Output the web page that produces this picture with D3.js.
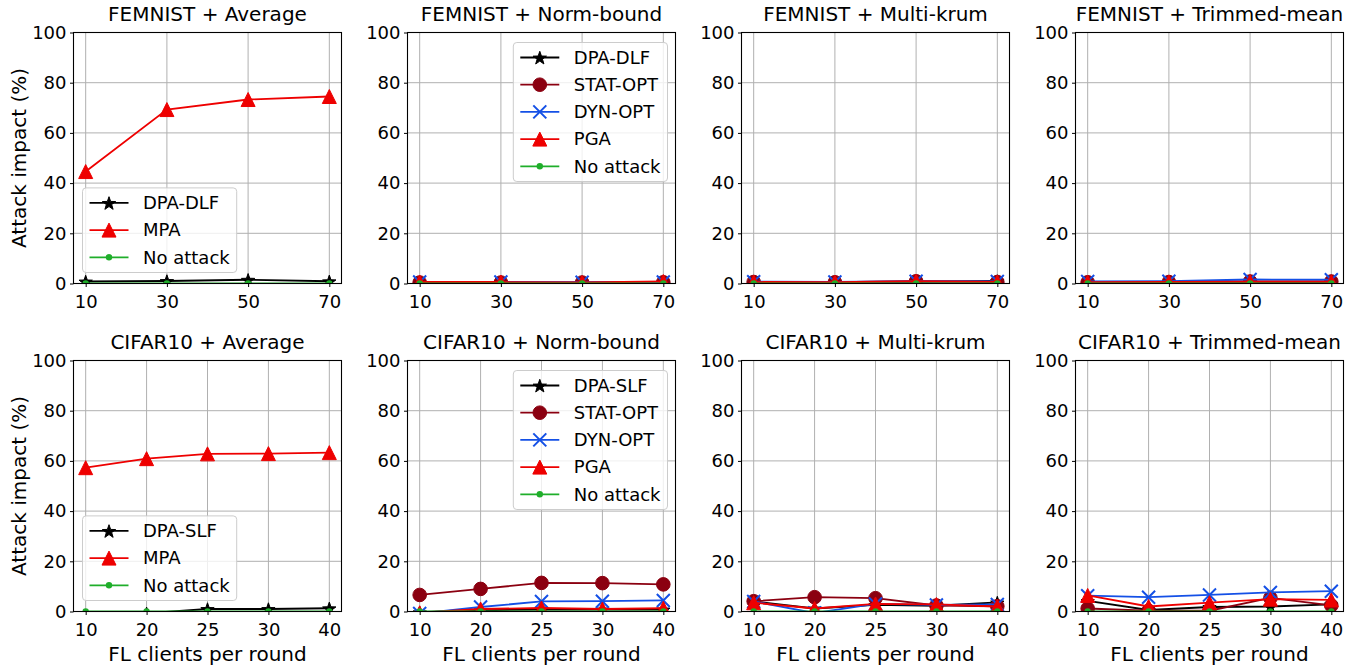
<!DOCTYPE html>
<html><head><meta charset="utf-8">
<script src="https://cdn.jsdelivr.net/npm/d3@7"></script>
<style>body{margin:0;background:#fff} svg{display:block} text{font-family:"DejaVu Sans",sans-serif;fill:#000}</style>
</head><body><svg id="c" width="1364" height="670"></svg>
<script>
// ---------- data ----------
const femnistClients = [10, 30, 50, 70];
const cifarClients = ["10", "20", "25", "30", "40"];
const yTickValues = [0, 20, 40, 60, 80, 100];
const panelTitles = [
  "FEMNIST + Average", "FEMNIST + Norm-bound", "FEMNIST + Multi-krum", "FEMNIST + Trimmed-mean",
  "CIFAR10 + Average", "CIFAR10 + Norm-bound", "CIFAR10 + Multi-krum", "CIFAR10 + Trimmed-mean"
];
const yAxisLabel = "Attack impact (%)";
const xAxisLabel = "FL clients per round";

// FEMNIST + Average
const femAvgDPA = [0.8, 1.0, 1.5, 0.9];
const femAvgMPA = [44.6, 69.3, 73.3, 74.5];
const femAvgNone = [0, 0, 0, 0];
// FEMNIST + Norm-bound
const femNormDPA = [0.2, 0.2, 0.2, 0.3];
const femNormSTAT = [0.4, 0.4, 0.4, 0.5];
const femNormDYN = [0.6, 0.6, 0.5, 0.6];
const femNormPGA = [0.6, 0.6, 0.4, 0.8];
const femNormNone = [0, 0, 0, 0];
// FEMNIST + Multi-krum
const femKrumDPA = [0.3, 0.3, 0.7, 1.0];
const femKrumSTAT = [0.6, 0.5, 0.9, 0.6];
const femKrumDYN = [0.7, 0.6, 0.9, 0.8];
const femKrumPGA = [0.6, 0.5, 0.9, 0.6];
const femKrumNone = [0, 0, 0, 0];
// FEMNIST + Trimmed-mean
const femTrimDPA = [0.3, 0.4, 0.5, 0.5];
const femTrimSTAT = [0.5, 0.6, 0.8, 0.8];
const femTrimDYN = [0.8, 0.9, 1.6, 1.5];
const femTrimPGA = [0.5, 0.6, 0.7, 0.7];
const femTrimNone = [0, 0, 0, 0];
// CIFAR10 + Average
const cifAvgDPA = [-2.5, -0.7, 1.0, 1.0, 1.3];
const cifAvgMPA = [57.3, 60.9, 62.8, 62.9, 63.3];
const cifAvgNone = [0, 0, 0, 0, 0];
// CIFAR10 + Norm-bound
const cifNormDPA = [-0.3, 0.5, 0.8, 0.8, 0.8];
const cifNormSTAT = [6.6, 9.0, 11.4, 11.3, 10.8];
const cifNormDYN = [-0.8, 1.8, 4.0, 4.1, 4.4];
const cifNormPGA = [-0.5, 1.0, 1.4, 1.0, 1.3];
const cifNormNone = [0, 0, 0, 0, 0];
// CIFAR10 + Multi-krum
const cifKrumDPA = [4.0, 1.2, 2.6, 2.3, 3.6];
const cifKrumSTAT = [4.1, 5.7, 5.3, 2.4, 2.1];
const cifKrumDYN = [4.0, -0.6, 3.0, 2.6, 2.8];
const cifKrumPGA = [3.5, 1.2, 3.0, 2.8, 2.0];
const cifKrumNone = [0, 0, 0, 0, 0];
// CIFAR10 + Trimmed-mean
const cifTrimDPA = [4.2, 0.6, 1.8, 2.0, 2.8];
const cifTrimSTAT = [1.2, 0.3, 0.3, 5.4, 2.4];
const cifTrimDYN = [6.3, 5.7, 6.6, 7.6, 8.1];
const cifTrimPGA = [6.4, 2.0, 3.5, 4.9, 4.6];
const cifTrimNone = [0, 0, 0, 0, 0];

// ---------- styles ----------
const STY = {
  dpa:  {color: "#000000", marker: "star"},
  stat: {color: "#8b0010", marker: "circle"},
  dyn:  {color: "#1450e6", marker: "x"},
  pga:  {color: "#ee0000", marker: "tri"},
  none: {color: "#1fae2a", marker: "dot"}
};

const panels = [
  {title: panelTitles[0], cifar: false, legend: "ll", series: [["DPA-DLF", femAvgDPA, "dpa"], ["MPA", femAvgMPA, "pga"], ["No attack", femAvgNone, "none"]]},
  {title: panelTitles[1], cifar: false, legend: "ur", series: [["DPA-DLF", femNormDPA, "dpa"], ["STAT-OPT", femNormSTAT, "stat"], ["DYN-OPT", femNormDYN, "dyn"], ["PGA", femNormPGA, "pga"], ["No attack", femNormNone, "none"]]},
  {title: panelTitles[2], cifar: false, legend: null, series: [["DPA-DLF", femKrumDPA, "dpa"], ["STAT-OPT", femKrumSTAT, "stat"], ["DYN-OPT", femKrumDYN, "dyn"], ["PGA", femKrumPGA, "pga"], ["No attack", femKrumNone, "none"]]},
  {title: panelTitles[3], cifar: false, legend: null, series: [["DPA-DLF", femTrimDPA, "dpa"], ["STAT-OPT", femTrimSTAT, "stat"], ["DYN-OPT", femTrimDYN, "dyn"], ["PGA", femTrimPGA, "pga"], ["No attack", femTrimNone, "none"]]},
  {title: panelTitles[4], cifar: true, legend: "ll", series: [["DPA-SLF", cifAvgDPA, "dpa"], ["MPA", cifAvgMPA, "pga"], ["No attack", cifAvgNone, "none"]]},
  {title: panelTitles[5], cifar: true, legend: "ur", series: [["DPA-SLF", cifNormDPA, "dpa"], ["STAT-OPT", cifNormSTAT, "stat"], ["DYN-OPT", cifNormDYN, "dyn"], ["PGA", cifNormPGA, "pga"], ["No attack", cifNormNone, "none"]]},
  {title: panelTitles[6], cifar: true, legend: null, series: [["DPA-SLF", cifKrumDPA, "dpa"], ["STAT-OPT", cifKrumSTAT, "stat"], ["DYN-OPT", cifKrumDYN, "dyn"], ["PGA", cifKrumPGA, "pga"], ["No attack", cifKrumNone, "none"]]},
  {title: panelTitles[7], cifar: true, legend: null, series: [["DPA-SLF", cifTrimDPA, "dpa"], ["STAT-OPT", cifTrimSTAT, "stat"], ["DYN-OPT", cifTrimDYN, "dyn"], ["PGA", cifTrimPGA, "pga"], ["No attack", cifTrimNone, "none"]]}
];

// ---------- layout ----------
const colX = [73.5, 407.5, 741.5, 1075.5];
const rowY = [32.5, 360.5];
const PW = 268, PH = 251;
const svg = d3.select("#c");

function starPath(R) {
  const r = R * 0.4, pts = [];
  for (let i = 0; i < 10; i++) {
    const a = -Math.PI / 2 + i * Math.PI / 5, rr = i % 2 ? r : R;
    pts.push([rr * Math.cos(a), rr * Math.sin(a)]);
  }
  return "M" + pts.map(p => p[0].toFixed(2) + "," + p[1].toFixed(2)).join("L") + "Z";
}
function drawMarker(g, type, color, cx, cy) {
  if (type === "star") {
    g.append("path").attr("d", starPath(7)).attr("transform", `translate(${cx},${cy + 0.8})`).attr("fill", color).attr("stroke", color).attr("stroke-width", 1);
  } else if (type === "circle") {
    g.append("circle").attr("cx", cx).attr("cy", cy).attr("r", 6.8).attr("fill", color).attr("stroke", color);
  } else if (type === "x") {
    const s = 6.5;
    g.append("path").attr("d", `M${cx - s},${cy - s}L${cx + s},${cy + s}M${cx - s},${cy + s}L${cx + s},${cy - s}`).attr("stroke", color).attr("stroke-width", 2).attr("fill", "none");
  } else if (type === "tri") {
    const s = 7;
    g.append("path").attr("d", `M${cx},${cy - s}L${cx - s},${cy + s}L${cx + s},${cy + s}Z`).attr("fill", color).attr("stroke", color);
  } else if (type === "dot") {
    g.append("circle").attr("cx", cx).attr("cy", cy).attr("r", 3.2).attr("fill", color);
  }
}

panels.forEach((p, i) => {
  const row = Math.floor(i / 4), col = i % 4;
  const g = svg.append("g").attr("transform", `translate(${colX[col]},${rowY[row]})`);
  const y = d3.scaleLinear().domain([0, 100]).range([PH, 0]);
  let x, xs;
  if (p.cifar) {
    x = d3.scalePoint().domain(cifarClients).range([0, PW]).padding(0.2);
    xs = cifarClients;
  } else {
    x = d3.scaleLinear().domain([7, 73]).range([0, PW]);
    xs = femnistClients;
  }
  const xPos = d => x(d);

  // grid
  const grid = g.append("g");
  xs.forEach(v => grid.append("line").attr("x1", xPos(v)).attr("x2", xPos(v)).attr("y1", 0).attr("y2", PH).attr("stroke", "#b0b0b0").attr("stroke-width", 1));
  yTickValues.forEach(v => grid.append("line").attr("x1", 0).attr("x2", PW).attr("y1", y(v)).attr("y2", y(v)).attr("stroke", "#b0b0b0").attr("stroke-width", 1));

  // clip
  const cid = "clip" + i;
  g.append("clipPath").attr("id", cid).append("rect").attr("x", 0).attr("y", 0).attr("width", PW).attr("height", PH);
  const data = g.append("g").attr("clip-path", `url(#${cid})`);
  p.series.forEach(([name, vals, key]) => {
    const st = STY[key];
    const pts = xs.map((xv, k) => [xPos(xv), y(vals[k])]);
    data.append("path").attr("d", d3.line()(pts)).attr("fill", "none").attr("stroke", st.color).attr("stroke-width", 1.8);
    const mg = data.append("g");
    pts.forEach(pt => drawMarker(mg, st.marker, st.color, pt[0], pt[1]));
  });

  // axes
  const ax = g.append("g").call(d3.axisLeft(y).tickValues(yTickValues).tickSize(3.5).tickPadding(3.5));
  const bx = g.append("g").attr("transform", `translate(0,${PH})`).call(d3.axisBottom(x).tickValues(xs).tickSize(3.5).tickPadding(8));
  [ax, bx].forEach(a => {
    a.select(".domain").remove();
    a.selectAll("text").attr("font-size", 18).attr("font-family", "DejaVu Sans").attr("fill", "#000");
    a.selectAll("line").attr("stroke", "#000").attr("stroke-width", 1);
  });
  g.append("rect").attr("x", 0).attr("y", 0).attr("width", PW).attr("height", PH).attr("fill", "none").attr("stroke", "#000").attr("stroke-width", 1.1);

  // title
  g.append("text").attr("x", PW / 2).attr("y", -11.5).attr("text-anchor", "middle").attr("font-size", 20).text(p.title);
  if (col === 0) {
    g.append("text").attr("transform", `translate(${-48},${PH / 2}) rotate(-90)`).attr("text-anchor", "middle").attr("font-size", 20).text(yAxisLabel);
  }
  if (row === 1) {
    g.append("text").attr("x", PW / 2).attr("y", PH + 49).attr("text-anchor", "middle").attr("font-size", 20).text(xAxisLabel);
  }

  // legend
  if (p.legend) {
    const lg = g.append("g");
    const box = lg.append("rect");
    const n = p.series.length;
    let maxW = 0;
    const items = lg.append("g");
    p.series.forEach(([name, vals, key], k) => {
      const t = items.append("text").attr("x", 60.5).attr("y", 15 + 27.2 * k).attr("dy", "0.35em").attr("font-size", 18).text(name);
      maxW = Math.max(maxW, t.node().getComputedTextLength());
      const st = STY[key];
      items.append("line").attr("x1", 7).attr("x2", 46).attr("y1", 15 + 27.2 * k).attr("y2", 15 + 27.2 * k).attr("stroke", st.color).attr("stroke-width", 1.8);
      drawMarker(items, st.marker, st.color, 26.5, 15 + 27.2 * k);
    });
    const bw = 60.5 + maxW + 7, bh = 27.2 * n + 3;
    box.attr("x", 0).attr("y", 0).attr("width", bw).attr("height", bh).attr("rx", 3.5)
      .attr("fill", "#fff").attr("fill-opacity", 0.8).attr("stroke", "#cccccc").attr("stroke-width", 1);
    if (p.legend === "ll") lg.attr("transform", `translate(9,${PH - 11 - bh})`);
    else lg.attr("transform", `translate(${PW - 8 - bw},10)`);
  }
});
</script></body></html>
